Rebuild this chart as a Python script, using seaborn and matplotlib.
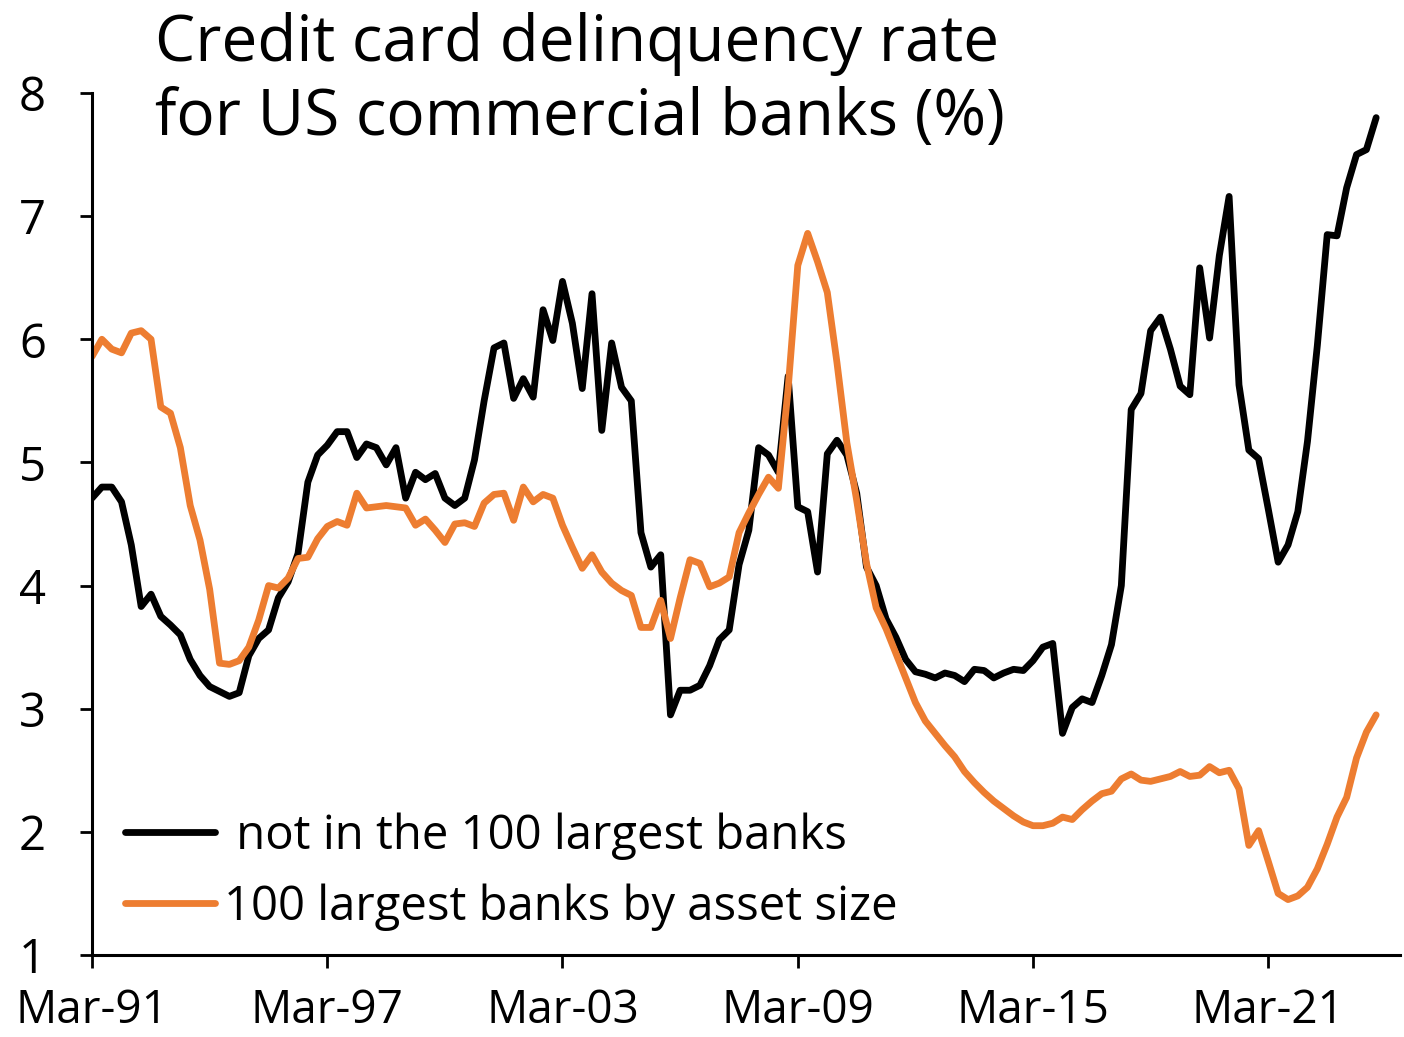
import pandas as pd
import matplotlib
matplotlib.use("Agg")
import matplotlib.pyplot as plt
import matplotlib.dates as mdates
import seaborn as sns

# Quarterly delinquency rates (%), starting Mar-91
not_top100 = [4.71, 4.80, 4.80, 4.68, 4.33, 3.83, 3.93, 3.75, 3.68, 3.60,
              3.40, 3.27, 3.18, 3.14, 3.10, 3.13, 3.43, 3.57, 3.64, 3.90,
              4.03, 4.26, 4.84, 5.06, 5.14, 5.25, 5.25, 5.04, 5.15, 5.12,
              4.98, 5.12, 4.71, 4.92, 4.86, 4.91, 4.71, 4.65, 4.71, 5.02,
              5.50, 5.93, 5.97, 5.52, 5.68, 5.53, 6.24, 5.99, 6.47, 6.13,
              5.60, 6.37, 5.26, 5.97, 5.61, 5.50, 4.43, 4.15, 4.25, 2.95,
              3.15, 3.15, 3.19, 3.35, 3.56, 3.64, 4.17, 4.45, 5.12, 5.06,
              4.92, 5.70, 4.64, 4.60, 4.11, 5.07, 5.18, 5.06, 4.75, 4.15,
              4.00, 3.73, 3.58, 3.40, 3.30, 3.28, 3.25, 3.29, 3.27, 3.22,
              3.32, 3.31, 3.25, 3.29, 3.32, 3.31, 3.39, 3.50, 3.53, 2.80,
              3.01, 3.08, 3.05, 3.27, 3.52, 4.00, 5.43, 5.56, 6.07, 6.18,
              5.92, 5.62, 5.55, 6.58, 6.01, 6.68, 7.16, 5.63, 5.10, 5.03,
              4.62, 4.19, 4.33, 4.60, 5.17, 5.95, 6.85, 6.84, 7.23, 7.50,
              7.54, 7.80]

top100 = [5.86, 6.00, 5.92, 5.89, 6.05, 6.07, 6.00, 5.45, 5.40, 5.12,
          4.65, 4.37, 3.97, 3.37, 3.36, 3.39, 3.50, 3.72, 4.00, 3.98,
          4.06, 4.22, 4.23, 4.38, 4.48, 4.52, 4.49, 4.75, 4.63, 4.64,
          4.65, 4.64, 4.63, 4.49, 4.54, 4.45, 4.35, 4.50, 4.51, 4.48,
          4.67, 4.74, 4.75, 4.53, 4.80, 4.68, 4.74, 4.71, 4.49, 4.31,
          4.14, 4.25, 4.11, 4.02, 3.96, 3.92, 3.66, 3.66, 3.88, 3.57,
          3.90, 4.21, 4.18, 3.99, 4.02, 4.07, 4.43, 4.59, 4.74, 4.88,
          4.79, 5.60, 6.60, 6.86, 6.63, 6.38, 5.81, 5.16, 4.69, 4.18,
          3.82, 3.65, 3.45, 3.25, 3.05, 2.90, 2.80, 2.70, 2.61, 2.49,
          2.40, 2.32, 2.25, 2.19, 2.13, 2.08, 2.05, 2.05, 2.07, 2.12,
          2.10, 2.18, 2.25, 2.31, 2.33, 2.43, 2.47, 2.42, 2.41, 2.43,
          2.45, 2.49, 2.45, 2.46, 2.53, 2.48, 2.50, 2.35, 1.89, 2.01,
          1.76, 1.50, 1.45, 1.48, 1.55, 1.70, 1.90, 2.12, 2.28, 2.60,
          2.81, 2.95]

series_names = [" not in the 100 largest banks", "100 largest banks by asset size"]
series_colors = ["black", "#ED7D31"]
tick_years = [1991, 1997, 2003, 2009, 2015, 2021]

dates = pd.date_range("1991-03-01", periods=len(not_top100), freq="3MS")
df = pd.concat([
    pd.DataFrame({"date": dates, "rate": not_top100, "group": series_names[0]}),
    pd.DataFrame({"date": dates, "rate": top100, "group": series_names[1]}),
])

sns.set_style("ticks")
plt.rcParams["font.family"] = ["Open Sans", "DejaVu Sans"]
plt.rcParams["text.color"] = "black"

fig = plt.figure(figsize=(14.04, 10.37), dpi=100)
ax = fig.add_axes([92 / 1404, 1 - 955 / 1037, (1400 - 92) / 1404, (955 - 93) / 1037])

sns.lineplot(data=df, x="date", y="rate", hue="group", hue_order=series_names,
             palette=series_colors, linewidth=4.9, ax=ax)

ax.set_ylim(1, 8)
ax.set_yticks(range(1, 9))
ax.set_xlim(pd.Timestamp("1991-03-01"), pd.Timestamp("2024-07-10"))
ax.set_xticks([pd.Timestamp(f"{y}-03-01") for y in tick_years])
ax.xaxis.set_major_formatter(mdates.DateFormatter("%b-%y"))
ax.set_xlabel("")
ax.set_ylabel("")

sns.despine(ax=ax)
for s in ["left", "bottom"]:
    ax.spines[s].set_linewidth(2.2)
    ax.spines[s].set_color("black")
ax.tick_params(axis="both", direction="out", length=9, width=2, labelsize=34, colors="black")
ax.tick_params(axis="y", pad=24)
ax.tick_params(axis="x", labelsize=33, pad=15)

leg = ax.legend(loc="upper left", bbox_to_anchor=(125 / 1404, 1 - 812 / 1037),
                bbox_transform=fig.transFigure, frameon=False, fontsize=34,
                handlelength=1.9, handletextpad=0.2, labelspacing=0.5,
                borderpad=0, borderaxespad=0, labelcolor="black")
for line in leg.get_lines():
    line.set_linewidth(4.9)

fig.text(155 / 1404, 1 - 12 / 1037, "Credit card delinquency rate\nfor US commercial banks (%)",
         fontsize=46, ha="left", va="top", linespacing=1.2, color="black")

fig.savefig("out.png", dpi=100)
